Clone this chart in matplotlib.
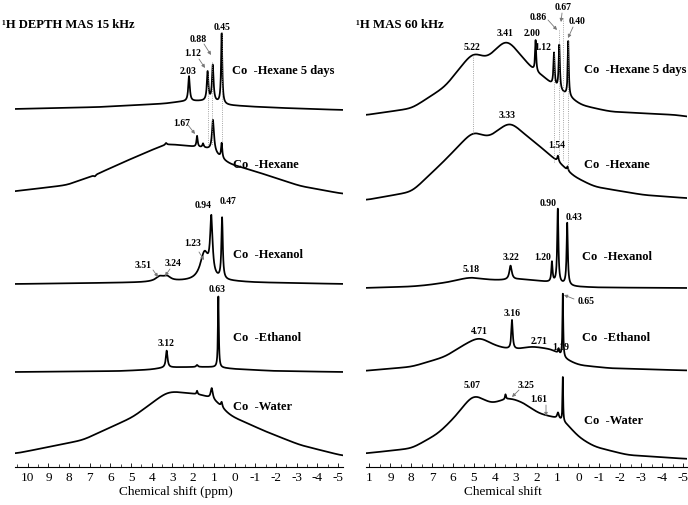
import numpy as np
import matplotlib.pyplot as plt
import matplotlib.transforms as mtransforms
from matplotlib.ticker import MultipleLocator

plt.rcParams['font.family'] = ['Liberation Serif', 'DejaVu Serif']

# ---------------- data (ppm, intensity) ----------------
# each trace = broad envelope + narrow lines (centre, height, hwhm)
# left panel: 1H DEPTH MAS 15 kHz
L_names = ['Co  -Hexane 5 days', 'Co  -Hexane', 'Co  -Hexanol', 'Co  -Ethanol', 'Co  -Water']

lh5_env_x = [10.6, 6.5, 3.3, 2.6, 1.7, 1.0, 0.5, -1.2, -3.0, -5.3]
lh5_env_y = [1, 3, 6.5, 8.5, 9, 8.5, 5, 3, 1.5, 0]
lh5_peaks = [(2.20, 25, 0.045), (1.30, 29, 0.045), (1.05, 36, 0.045), (0.62, 70, 0.035)]

lhx_env_x = [10.6, 10.52, 8.10, 6.75, 4.91, 3.31, 2.39, 1.67, 1.19, 0.86, 0.62, 0.46, 0.07, -1.57, -3.17, -5.3]
lhx_env_y = [3.5, 4, 10, 20, 37, 51, 49.5, 47.5, 46.5, 40, 37, 33, 30, 20, 9, 1]
lhx_peaks = [(6.75, -1.5, 0.05), (3.31, 2, 0.05), (1.81, 11, 0.035), (1.52, 4, 0.04),
             (1.04, 32, 0.06), (0.62, 15, 0.035)]

lhl_env_x = [10.6, 4.5, 2.6, 0.2, -1.0, -5.3]
lhl_env_y = [0, 1.5, 2.5, 2.5, 1.5, 0]
lhl_peaks = [(3.60, 5, 0.25), (3.25, 4, 0.2), (1.45, 28, 0.25), (1.12, 56, 0.07), (0.60, 61, 0.04)]

let_env_x = [10.6, 5.5, 4.0, 3.4, 2.0, 1.0, 0.5, 0.0, -2.0, -5.3]
let_env_y = [0, 1, 2.5, 4.5, 5, 5, 4, 3, 1, 0]
let_peaks = [(3.28, 17, 0.05), (1.81, 2, 0.05), (0.78, 71, 0.025)]

lwa_env_x = [10.6, 10.52, 7.33, 4.91, 3.31, 2.98, 1.81, 1.43, 1.2, 0.86, 0.7, 0.5, 0.46, 0.07, -1.57, -3.17, -5.3]
lwa_env_y = [3.5, 3.7, 17, 40, 64.5, 65.5, 63, 61, 60, 55, 53, 47, 45, 40, 25, 12, 1]
lwa_peaks = [(1.81, 3.5, 0.03), (1.10, 11, 0.06), (0.62, 5, 0.04)]

# right panel: 1H MAS 60 kHz
R_names = ['Co  -Hexane 5 days', 'Co  -Hexane', 'Co  -Hexanol', 'Co  -Ethanol', 'Co  -Water']

rh5_env_x = [10.3, 10.15, 7.97, 6.38, 5.03, 4.40, 3.44, 2.57, 2.10, 1.62, 1.14, 0.76, 0.43, 0.03,
             -0.29, -0.44, -0.6, -1.56, -4.73, -5.3]
rh5_env_y = [1.8, 2, 8.7, 30.3, 66, 58, 79, 57, 45.3, 40.3, 29, 24, 20.3, 13.7,
             10.3, 11, 9.5, 5.3, 2, 0]
rh5_peaks = [(2.05, 31, 0.03), (1.17, 33, 0.035), (0.92, 45, 0.035), (0.49, 55, 0.03)]

rhx_env_x = [10.3, 10.15, 7.97, 6.38, 5.03, 4.32, 3.29, 2.25, 1.62, 1.22, 1.0, 0.67, 0.35, -0.76, -3.14, -5.3]
rhx_env_y = [0, 0, 8.3, 40, 69.5, 62, 79, 60, 50, 41.7, 39, 33.3, 25, 13.3, 5, 1.7]
rhx_peaks = [(0.98, 6, 0.04), (0.52, 4, 0.03)]

rhl_env_x = [10.3, 8, 7.2, 6.2, 5.6, 5.11, 4.6, 4.0, 3.5, 2.8, 2.0, 1.5, 1.0, 0.3, -1, -5.3]
rhl_env_y = [0, 1.5, 3, 6, 9, 11, 9, 8, 8, 9, 7.5, 6, 5, 1.5, 0.5, 0]
rhl_peaks = [(3.25, 14, 0.07), (1.27, 20, 0.035), (0.99, 74, 0.035), (0.54, 62, 0.035)]

ret_env_x = [10.3, 7.97, 6.38, 5.5, 4.75, 4.05, 3.4, 2.9, 2.25, 1.3, 1.0, 0.85, 0.5, 0.03, -1.56, -5.3]
ret_env_y = [0, 4.3, 14.3, 26, 34.5, 26, 22, 21.7, 24.8, 21.7, 20, 14, 11, 6, 2.7, 0.5]
ret_peaks = [(3.18, 29, 0.04), (0.95, 5, 0.03), (0.75, 63, 0.022)]

rwa_env_x = [10.3, 10.15, 7.97, 6.7, 5.9, 5.03, 4.16, 3.6, 3.29, 2.57, 1.94, 1.3, 1.0, 0.8, 0.6, 0.5,
             0.03, -0.76, -2.35, -5.3]
rwa_env_y = [5.5, 5.7, 10.7, 25.7, 42.3, 65.5, 55, 59.5, 61.5, 55.7, 45.7, 42.3, 41, 40, 36, 34,
             22.3, 12.3, 4, 0]
rwa_peaks = [(3.49, 5, 0.03), (0.98, 6, 0.05), (0.75, 44, 0.018)]

# ---------------- layout ----------------
L_zero = [110, 195, 284, 372, 457]      # zero line of each trace (px from top)
R_zero = [117, 200, 288, 371, 459]

ppm = np.linspace(-5.4, 10.8, 8101)
step = ppm[1] - ppm[0]


def trace(env_x, env_y, peaks, smooth=0.25):
    y = np.interp(ppm, env_x[::-1], env_y[::-1])
    s = smooth / step
    k = np.exp(-0.5 * (np.arange(-int(4 * s), int(4 * s) + 1) / s) ** 2)
    k /= k.sum()
    n = len(k) // 2
    y = np.convolve(np.pad(y, n, mode='edge'), k, mode='valid')
    for c, h, w in peaks:
        y = y + h / (1 + ((ppm - c) / w) ** 2)
    return y


fig = plt.figure(figsize=(6.88, 5.05), dpi=100)
axL = fig.add_axes([15 / 688, 38 / 505, 328 / 688, 467 / 505])
axR = fig.add_axes([366 / 688, 38 / 505, 321 / 688, 467 / 505])
axL.set_xlim((234.5 - 15) / 20.67, (234.5 - 343) / 20.67)
axR.set_xlim((578.5 - 366) / 20.9, (578.5 - 687) / 20.9)

L_traces = [(lh5_env_x, lh5_env_y, lh5_peaks), (lhx_env_x, lhx_env_y, lhx_peaks),
            (lhl_env_x, lhl_env_y, lhl_peaks), (let_env_x, let_env_y, let_peaks),
            (lwa_env_x, lwa_env_y, lwa_peaks)]
R_traces = [(rh5_env_x, rh5_env_y, rh5_peaks), (rhx_env_x, rhx_env_y, rhx_peaks),
            (rhl_env_x, rhl_env_y, rhl_peaks), (ret_env_x, ret_env_y, ret_peaks),
            (rwa_env_x, rwa_env_y, rwa_peaks)]

for ax, traces, zeros in [(axL, L_traces, L_zero), (axR, R_traces, R_zero)]:
    for (ex, ey, pk), z in zip(traces, zeros):
        ax.plot(ppm, z - trace(ex, ey, pk), color='black', lw=1.25, solid_joinstyle='round')
    ax.set_ylim(467, 0)
    for s in ['left', 'right', 'top']:
        ax.spines[s].set_visible(False)
    ax.spines['bottom'].set_linewidth(0.8)
    ax.set_yticks([])
    ax.set_xticks(range(-5, 11))
    ax.xaxis.set_minor_locator(MultipleLocator(0.5))
    ax.tick_params(axis='x', which='major', direction='in', length=3, width=0.6, pad=3.5, labelsize=9.5)
    ax.tick_params(axis='x', which='minor', direction='in', length=2, width=0.5)
    ax.patch.set_alpha(0)

axL.set_xticklabels([str(i) for i in range(-5, 11)])
axR.set_xticklabels([str(i) for i in range(-5, 10)] + ['1'])
axL.set_xlabel('Chemical shift (ppm)', fontsize=9.5)
axR.set_xlabel('Chemical shift', fontsize=9.5)
axL.xaxis.set_label_coords(0.49, -0.04)
axR.xaxis.set_label_coords(0.425, -0.04)

# text positions in picture pixels (x) / px from top (y)
TL = mtransforms.blended_transform_factory(mtransforms.IdentityTransform(), axL.transData)
TR = mtransforms.blended_transform_factory(mtransforms.IdentityTransform(), axR.transData)

axL.text(2, 25, '¹H DEPTH MAS 15 kHz', transform=TL, fontsize=9.1, fontweight='bold', va='center')
axR.text(356, 25, '¹H MAS 60 kHz', transform=TR, fontsize=9.3, fontweight='bold', va='center')

L_lab_pos = [(232, 71), (233, 165), (233, 255), (233, 338), (233, 407)]
R_lab_pos = [(584, 70), (584, 165), (582, 257), (582, 338), (584, 421)]
for name, (x, y) in zip(L_names, L_lab_pos):
    axL.text(x, y, name, transform=TL, fontsize=9, fontweight='bold', va='center')
for name, (x, y) in zip(R_names, R_lab_pos):
    axR.text(x, y, name, transform=TR, fontsize=9, fontweight='bold', va='center')

L_marks = [('0.45', 222, 27), ('0.88', 198, 39), ('1.12', 193, 54), ('2.03', 188, 71),
           ('1.67', 182, 123), ('0.94', 203, 205), ('0.47', 228, 202), ('1.23', 193, 243),
           ('3.51', 143, 265), ('3.24', 173, 263), ('0.63', 217, 289), ('3.12', 166, 344)]
R_marks = [('5.22', 472, 47), ('3.41', 505, 34), ('2.00', 532, 33), ('1.12', 543, 47),
           ('0.86', 538, 17), ('0.67', 563, 7), ('0.40', 577, 22), ('3.33', 507, 115),
           ('1.54', 557, 145), ('0.90', 548, 203), ('0.43', 574, 217), ('5.18', 471, 270),
           ('3.22', 511, 257), ('1.20', 543, 257), ('4.71', 479, 331), ('3.16', 512, 313),
           ('2.71', 539, 342), ('1.19', 561, 347), ('0.65', 586, 301), ('5.07', 472, 386),
           ('3.25', 526, 386), ('1.61', 539, 400)]
for t, x, y in L_marks:
    axL.text(x, y, t, transform=TL, fontsize=7, fontweight='bold', ha='center', va='center')
for t, x, y in R_marks:
    axR.text(x, y, t, transform=TR, fontsize=7, fontweight='bold', ha='center', va='center')

arrow_style = dict(arrowstyle='-|>', color='#777777', lw=0.6, mutation_scale=5, shrinkA=0, shrinkB=0)
L_arrows = [((204, 44), (211, 55)), ((199, 59), (205, 68)), ((188, 125), (195, 134)),
            ((199, 252), (204, 260)), ((153, 270), (158, 277)), ((170, 269), (165, 276))]
R_arrows = [((548, 20), (557, 30)), ((562, 13), (561, 22)), ((573, 27), (568, 38)),
            ((574, 299), (564, 295)), ((519, 390), (512, 397)), ((546, 405), (546, 416))]
for a, b in L_arrows:
    axL.annotate('', xy=b, xytext=a, xycoords=TL, textcoords=TL, arrowprops=arrow_style)
for a, b in R_arrows:
    axR.annotate('', xy=b, xytext=a, xycoords=TR, textcoords=TR, arrowprops=arrow_style)

# dotted guide lines (ppm, top, bottom)
L_guides = [(1.30, 71, 145), (1.07, 62, 145), (0.62, 32, 142)]
R_guides = [(5.03, 55, 133), (1.17, 53, 162), (0.92, 30, 160), (0.76, 18, 160), (0.49, 40, 170)]
for x, y0, y1 in L_guides:
    axL.plot([x, x], [y0, y1], color='#888888', lw=0.6, ls=':')
for x, y0, y1 in R_guides:
    axR.plot([x, x], [y0, y1], color='#888888', lw=0.6, ls=':')

fig.savefig('out.png', dpi=100)
